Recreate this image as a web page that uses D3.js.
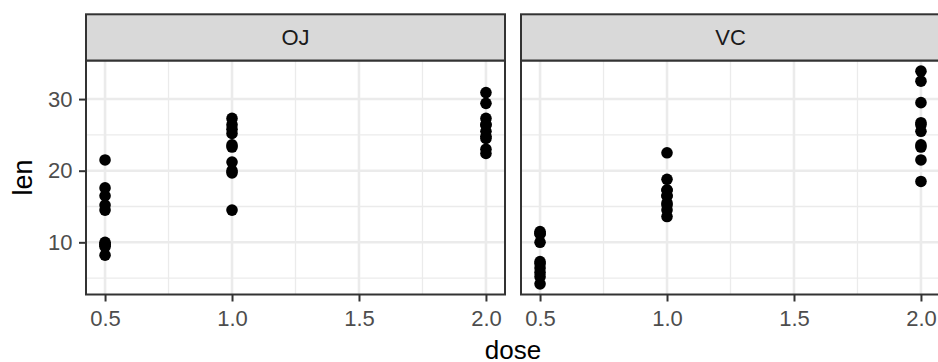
<!DOCTYPE html>
<html><head><meta charset="utf-8">
<script src="https://cdn.jsdelivr.net/npm/d3@7"></script>
<style>body{margin:0;background:#fff}svg{display:block;font-family:"Liberation Sans",Arial,sans-serif}</style>
</head><body><svg id="c" width="938" height="362"></svg>
<script>
const supps = ["OJ", "VC"];
const doses = [0.5, 1.0, 2.0];
const ojLen = [
  [15.2, 21.5, 17.6, 9.7, 14.5, 10.0, 8.2, 9.4, 16.5, 9.7],
  [19.7, 23.3, 23.6, 26.4, 20.0, 25.2, 25.8, 21.2, 14.5, 27.3],
  [25.5, 26.4, 22.4, 24.5, 24.8, 30.9, 26.4, 27.3, 29.4, 23.0]
];
const vcLen = [
  [4.2, 11.5, 7.3, 5.8, 6.4, 10.0, 11.2, 11.2, 5.2, 7.0],
  [16.5, 16.5, 15.2, 17.3, 22.5, 17.3, 13.6, 14.5, 18.8, 15.5],
  [23.6, 18.5, 33.9, 25.5, 26.4, 32.5, 26.7, 21.5, 23.3, 29.5]
];
const xTicks = [0.5, 1.0, 1.5, 2.0];
const xMinor = [0.75, 1.25, 1.75];
const yTicks = [10, 20, 30];
const yMinor = [5, 15, 25];

const svg = d3.select("#c");
const panelW = 419, gap = 16, left0 = 86;
const pTop = 60.5, pBottom = 294.5, stripTop = 14.3;
const series = {OJ: ojLen, VC: vcLen};
const FONT = "Liberation Sans, Arial, sans-serif";

const allY = [].concat(...ojLen, ...vcLen);
const yMin = d3.min(allY), yMax = d3.max(allY), yPad = (yMax - yMin) * 0.05;
const y = d3.scaleLinear().domain([yMin - yPad, yMax + yPad]).range([pBottom, pTop]);
const xPad = (2.0 - 0.5) * 0.05;

supps.forEach((s, i) => {
  const x0 = left0 + i * (panelW + gap);
  const x = d3.scaleLinear().domain([0.5 - xPad, 2.0 + xPad]).range([x0, x0 + panelW]);
  const g = svg.append("g");
  g.selectAll(".ym").data(yMinor).join("line").attr("x1", x0).attr("x2", x0 + panelW)
    .attr("y1", d => y(d)).attr("y2", d => y(d)).attr("stroke", "#EBEBEB").attr("stroke-width", 1.3);
  g.selectAll(".xm").data(xMinor).join("line").attr("y1", pTop).attr("y2", pBottom)
    .attr("x1", d => x(d)).attr("x2", d => x(d)).attr("stroke", "#EBEBEB").attr("stroke-width", 1.3);
  g.selectAll(".yM").data(yTicks).join("line").attr("x1", x0).attr("x2", x0 + panelW)
    .attr("y1", d => y(d)).attr("y2", d => y(d)).attr("stroke", "#EBEBEB").attr("stroke-width", 2.6);
  g.selectAll(".xM").data(xTicks).join("line").attr("y1", pTop).attr("y2", pBottom)
    .attr("x1", d => x(d)).attr("x2", d => x(d)).attr("stroke", "#EBEBEB").attr("stroke-width", 2.6);
  const pts = [];
  series[s].forEach((arr, di) => arr.forEach(v => pts.push([doses[di], v])));
  g.selectAll("circle").data(pts).join("circle").attr("cx", d => x(d[0])).attr("cy", d => y(d[1]))
    .attr("r", 5.8).attr("fill", "#000");
  g.append("rect").attr("x", x0).attr("y", pTop).attr("width", panelW).attr("height", pBottom - pTop)
    .attr("fill", "none").attr("stroke", "#333333").attr("stroke-width", 2);
  g.append("rect").attr("x", x0).attr("y", stripTop).attr("width", panelW).attr("height", pTop - stripTop)
    .attr("fill", "#D9D9D9").attr("stroke", "#333333").attr("stroke-width", 2);
  g.append("text").attr("x", x0 + panelW / 2).attr("y", stripTop + (pTop - stripTop) / 2).attr("dy", "0.36em")
    .attr("text-anchor", "middle").attr("fill", "#1A1A1A").attr("font-size", 22).attr("font-family", FONT).text(s);
  const xa = svg.append("g").attr("transform", `translate(0,${pBottom})`)
    .call(d3.axisBottom(x).tickValues(xTicks).tickFormat(d3.format(".1f")).tickSize(7).tickPadding(8.5));
  xa.select(".domain").remove();
  xa.selectAll("line").attr("stroke", "#333333").attr("stroke-width", 2);
  xa.selectAll("text").attr("fill", "#4D4D4D").attr("font-size", 22).attr("font-family", FONT);
  if (i === 0) {
    const ya = svg.append("g").attr("transform", `translate(${x0},0)`)
      .call(d3.axisLeft(y).tickValues(yTicks).tickSize(7).tickPadding(6.5));
    ya.select(".domain").remove();
    ya.selectAll("line").attr("stroke", "#333333").attr("stroke-width", 2);
    ya.selectAll("text").attr("fill", "#4D4D4D").attr("font-size", 22).attr("font-family", FONT);
  }
});

svg.append("text").attr("x", (left0 + left0 + 2 * panelW + gap) / 2).attr("y", 359)
  .attr("text-anchor", "middle").attr("font-size", 26).attr("font-family", FONT).attr("fill", "#000").text("dose");
svg.append("text").attr("transform", `translate(31.5,${(pTop + pBottom) / 2}) rotate(-90)`)
  .attr("text-anchor", "middle").attr("font-size", 27).attr("font-family", FONT).attr("fill", "#000").text("len");
</script></body></html>
